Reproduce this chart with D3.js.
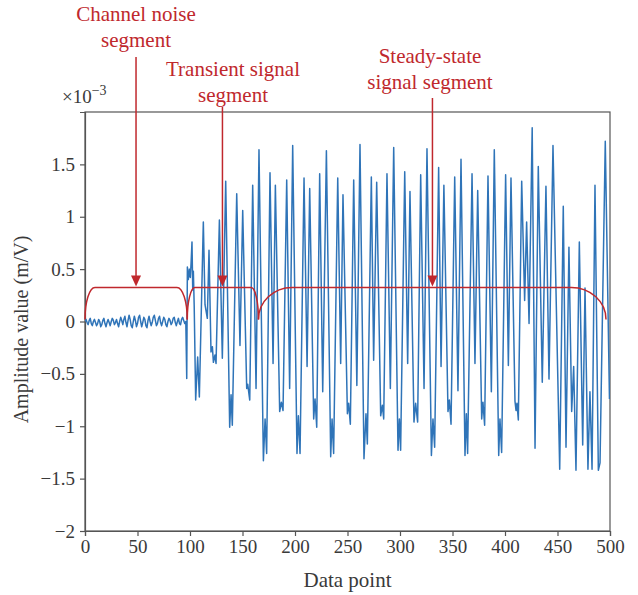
<!DOCTYPE html>
<html>
<head>
<meta charset="utf-8">
<script src="https://cdn.jsdelivr.net/npm/d3@7"></script>
<style>
html,body{margin:0;padding:0;background:#fff;}
svg text{font-family:"Liberation Serif","Times New Roman",serif;}
</style>
</head>
<body>
<svg id="chart" width="638" height="595"></svg>
<script>
// ---- data ----
const xTicks = [0, 50, 100, 150, 200, 250, 300, 350, 400, 450, 500];
const yTicks = [-2, -1.5, -1, -0.5, 0, 0.5, 1, 1.5];
const yTickLabels = ["\u22122", "\u22121.5", "\u22121", "\u22120.5", "0", "0.5", "1", "1.5"];

// channel noise segment, data points 0..96 (x10^-3)
const noiseValues = [
  0.00,0.02,-0.01,-0.03,0.01,0.03,-0.02,-0.04,0.00,0.02,
  -0.01,-0.04,-0.02,0.02,0.00,-0.05,-0.03,0.01,0.03,-0.02,
  -0.05,-0.01,0.02,-0.01,-0.04,0.00,0.03,0.01,-0.03,-0.01,
  0.02,-0.02,-0.05,0.00,0.04,0.01,-0.03,0.02,0.05,-0.01,
  -0.05,0.01,0.06,0.02,-0.04,-0.06,0.00,0.05,0.01,-0.05,
  -0.02,0.04,0.06,0.00,-0.05,-0.01,0.04,0.02,-0.04,-0.06,
  0.01,0.05,0.00,-0.04,-0.01,0.04,0.06,0.01,-0.04,-0.02,
  0.03,0.05,-0.01,-0.04,0.00,0.04,0.02,-0.03,-0.05,0.00,
  0.03,0.01,-0.03,-0.01,0.03,0.04,-0.01,-0.04,0.00,0.03,
  -0.02,-0.03,0.02,0.04,0.01,-0.02,0.00
];

// signal turning points (data point index, amplitude x10^-3)
const signalX = [
  96.9,97.5,98.4,99.4,100.3,101.0,101.9,102.6,103.2,104.0,
  105.4,107.3,108.9,112.7,114.3,116.5,118.1,120.0,121.3,122.3,
  123.8,124.8,128.0,130.8,134.0,137.8,139.1,140.3,144.5,147.6,
  150.2,154.0,155.0,156.9,159.7,162.9,165.7,169.9,171.5,173.0,
  176.2,179.1,181.3,185.4,187.0,188.6,192.1,194.9,197.8,201.9,
  203.2,204.8,208.6,211.5,214.0,217.8,219.1,220.7,223.5,226.4,
  229.9,234.0,235.3,236.8,240.7,243.5,245.7,249.9,251.1,252.7,
  255.9,258.9,261.9,265.7,267.6,268.9,272.7,274.9,277.8,281.6,
  283.2,284.5,287.6,290.8,294.0,298.1,299.4,300.6,304.5,307.3,
  309.5,313.3,314.9,316.8,319.7,322.9,325.7,329.9,331.4,333.0,
  336.8,339.1,341.8,345.7,347.0,348.6,352.1,355.2,358.1,361.9,
  363.2,364.4,368.6,371.4,374.0,377.8,379.0,380.6,383.8,387.0,
  389.8,394.0,395.2,396.8,400.6,403.2,405.7,409.5,410.5,411.4,
  412.7,415.9,418.7,420.6,422.9,425.9,428.6,431.7,435.5,439.0,
  441.9,445.7,452.1,455.5,458.1,460.9,463.5,465.4,467.6,470.8,
  474.0,476.2,479.0,480.9,482.9,485.7,488.9,490.5,495.5,499.5
];
const signalY = [
  -0.545,0.52,0.40,0.50,0.42,0.55,0.76,0.30,0.48,0.15,
  -0.75,-0.34,-0.72,0.95,0.16,0.03,0.68,-0.29,-0.24,-0.39,
  -0.32,-0.40,0.97,-0.35,1.34,-1.01,-0.70,-0.99,1.22,-0.23,
  1.06,-0.64,-0.60,-0.75,1.30,-0.64,1.64,-1.33,-0.93,-1.26,
  1.42,-0.40,1.30,-0.86,-0.77,-0.85,1.35,-0.64,1.68,-1.26,
  -0.90,-1.26,1.37,-0.43,1.27,-0.93,-0.74,-1.01,1.41,-0.67,
  1.63,-1.29,-0.93,-1.26,1.37,-0.40,1.21,-0.88,-0.78,-0.98,
  1.35,-0.61,1.69,-1.31,-0.88,-1.17,1.38,-0.37,1.33,-0.90,
  -0.80,-0.93,1.41,-0.64,1.66,-1.23,-0.93,-1.23,1.43,-0.40,
  1.24,-0.96,-0.78,-0.96,1.40,-0.64,1.65,-1.28,-0.93,-1.20,
  1.47,-0.43,1.30,-0.86,-0.75,-0.98,1.38,-0.66,1.55,-1.28,
  -0.88,-1.26,1.41,-0.40,1.25,-0.93,-0.77,-0.99,1.39,-0.67,
  1.64,-1.28,-0.93,-1.25,1.40,-0.42,1.37,-0.76,-0.85,-0.78,
  -0.94,1.34,0.20,0.95,-0.02,1.85,-1.21,1.48,-0.58,1.29,
  -0.55,1.68,-1.41,1.10,-1.20,0.71,-0.86,-0.43,-1.42,0.76,
  -1.18,0.32,-1.41,-0.67,-1.41,1.30,-1.42,-1.35,1.72,-0.74
];

// segment brackets (data point ranges) and curve widths
const segmentStart = [0, 97.4, 165.2];
const segmentEnd = [97.4, 165.2, 496.2];
const segmentCurveLeft = [9.5, 7.3, 32];
const segmentCurveRight = [9.8, 7.0, 33];
const bracketLow = 0.02, bracketTop = 0.325;

// annotations
const annotLines = [["Channel noise", "segment"], ["Transient signal", "segment"], ["Steady-state", "signal segment"]];
const annotArrowX = [48.6, 130.9, 330.9];

// ---- drawing ----
const svg = d3.select("#chart");
const margin = {left: 85, right: 28, top: 112, bottom: 64};
const W = 638, H = 595;
const x = d3.scaleLinear().domain([0, 500]).range([margin.left, W - margin.right]);
const y = d3.scaleLinear().domain([-2, 2]).range([H - margin.bottom, margin.top]);

const axisColor = "#555";
const textColor = "#3a3a3a";
const red = "#c0282d";
const blue = "#2f74b8";

// box
svg.append("rect")
  .attr("x", x(0)).attr("y", y(2))
  .attr("width", x(500) - x(0)).attr("height", y(-2) - y(2))
  .attr("fill", "none").attr("stroke", axisColor).attr("stroke-width", 1.2);

// axes
const xAxis = d3.axisBottom(x).tickValues(xTicks).tickSize(5).tickPadding(4).tickFormat(d3.format("d"));
const gx = svg.append("g").attr("transform", `translate(0,${y(-2)})`).call(xAxis);
const yAxis = d3.axisLeft(y).tickValues(yTicks).tickSize(5).tickPadding(5)
  .tickFormat((d, i) => yTickLabels[i]);
const gy = svg.append("g").attr("transform", `translate(${x(0)},0)`).call(yAxis);
[gx, gy].forEach(g => {
  g.select(".domain").attr("stroke", axisColor).attr("stroke-width", 1.2);
  g.selectAll(".tick line").attr("stroke", axisColor).attr("stroke-width", 1.2);
  g.selectAll(".tick text").attr("fill", textColor).style("font-size", "19px")
    .style("font-family", "'Liberation Serif', serif");
});

// axis titles
svg.append("text").attr("x", (x(0) + x(500)) / 2).attr("y", 587)
  .attr("text-anchor", "middle").attr("fill", textColor).style("font-size", "21px")
  .text("Data point");
svg.append("text").attr("transform", `translate(28,${(y(-2) + y(2)) / 2 + 8}) rotate(-90)`)
  .attr("text-anchor", "middle").attr("fill", textColor).style("font-size", "20px")
  .text("Amplitude value (m/V)");

// exponent label
const ex = svg.append("text").attr("x", 62).attr("y", 103).attr("fill", textColor).style("font-size", "19px");
ex.append("tspan").text("\u00d710");
ex.append("tspan").attr("dy", -8).style("font-size", "14px").text("\u22123");

// signal line
const pts = noiseValues.map((v, i) => [i, v]).concat(signalX.map((d, i) => [d, signalY[i]]));
svg.append("clipPath").attr("id", "clip").append("rect")
  .attr("x", x(0)).attr("y", y(2)).attr("width", x(500) - x(0)).attr("height", y(-2) - y(2));
svg.append("path").datum(pts)
  .attr("clip-path", "url(#clip)")
  .attr("d", d3.line().x(d => x(d[0])).y(d => y(d[1])))
  .attr("fill", "none").attr("stroke", blue).attr("stroke-width", 1.5).attr("stroke-linejoin", "round");

// brackets
segmentStart.forEach((a, i) => {
  const b = segmentEnd[i];
  const x0 = x(a), x1 = x(a + segmentCurveLeft[i]), x2 = x(b - segmentCurveRight[i]), x3 = x(b);
  const yl = y(bracketLow), yt = y(bracketTop);
  const ry = yl - yt;
  const p = `M${x0},${yl} A${x1 - x0},${ry} 0 0 1 ${x1},${yt} L${x2},${yt} A${x3 - x2},${ry} 0 0 1 ${x3},${yl}`;
  svg.append("path").attr("d", p).attr("fill", "none").attr("stroke", red).attr("stroke-width", 1.5);
});

// annotations
const annotTextY = [[21, 47], [76, 102], [63, 89]];
const annotTextX = [136, 233, 430];
const arrowTopY = [57, 107, 98];
annotLines.forEach((lines, i) => {
  lines.forEach((t, j) => {
    svg.append("text").attr("x", annotTextX[i]).attr("y", annotTextY[i][j])
      .attr("text-anchor", "middle").attr("fill", red).style("font-size", "21px").text(t);
  });
  const ax = x(annotArrowX[i]);
  const tip = y(bracketTop) - 1;
  svg.append("line").attr("x1", ax).attr("x2", ax).attr("y1", arrowTopY[i]).attr("y2", tip - 8)
    .attr("stroke", red).attr("stroke-width", 1.5);
  svg.append("path").attr("d", `M${ax - 5},${tip - 11} L${ax + 5},${tip - 11} L${ax},${tip} Z`)
    .attr("fill", red);
});
</script>
</body>
</html>
